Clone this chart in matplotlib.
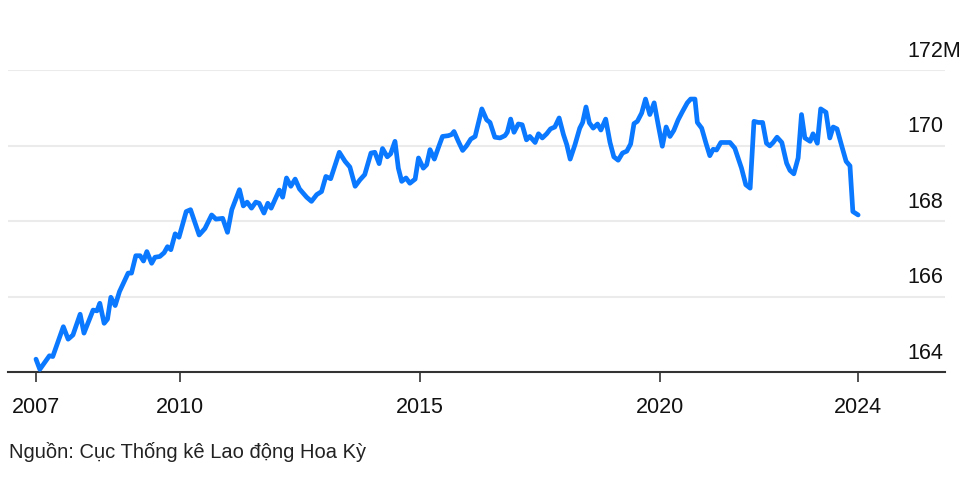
import matplotlib
matplotlib.use("Agg")
import matplotlib.pyplot as plt

plt.rcParams['font.family'] = ['Liberation Sans', 'DejaVu Sans']

# vertices (decimal years, millions)
years = [
    2007.00, 2007.08, 2007.28, 2007.35, 2007.57, 2007.67, 2007.77, 2007.92,
    2008.00, 2008.19, 2008.27, 2008.33, 2008.42, 2008.49, 2008.56, 2008.65,
    2008.74, 2008.92, 2008.99, 2009.08, 2009.17, 2009.24, 2009.31, 2009.41,
    2009.48, 2009.58, 2009.67, 2009.74, 2009.81, 2009.90, 2009.98, 2010.13,
    2010.22, 2010.40, 2010.52, 2010.66, 2010.75, 2010.89, 2010.99, 2011.08,
    2011.24, 2011.32, 2011.40, 2011.49, 2011.58, 2011.65, 2011.75, 2011.83,
    2011.90, 2012.07, 2012.14, 2012.22, 2012.31, 2012.40, 2012.49, 2012.64,
    2012.74, 2012.85, 2012.95, 2013.04, 2013.14, 2013.32, 2013.44, 2013.54,
    2013.65, 2013.75, 2013.85, 2013.98, 2014.06, 2014.15, 2014.22, 2014.32,
    2014.39, 2014.48, 2014.55, 2014.62, 2014.71, 2014.79, 2014.90, 2014.97,
    2015.07, 2015.14, 2015.21, 2015.30, 2015.38, 2015.47, 2015.59, 2015.66,
    2015.71, 2015.80, 2015.89, 2015.97, 2016.06, 2016.15, 2016.29, 2016.39,
    2016.46, 2016.56, 2016.67, 2016.77, 2016.82, 2016.89, 2016.96, 2017.05,
    2017.13, 2017.22, 2017.29, 2017.40, 2017.47, 2017.55, 2017.64, 2017.72,
    2017.81, 2017.90, 2017.99, 2018.06, 2018.13, 2018.23, 2018.33, 2018.39,
    2018.46, 2018.53, 2018.61, 2018.70, 2018.77, 2018.87, 2018.96, 2019.04,
    2019.13, 2019.22, 2019.31, 2019.39, 2019.46, 2019.53, 2019.62, 2019.70,
    2019.79, 2019.88, 2019.97, 2020.05, 2020.13, 2020.21, 2020.29, 2020.38,
    2020.47, 2020.57, 2020.64, 2020.73, 2020.78, 2020.87, 2020.96, 2021.04,
    2021.11, 2021.18, 2021.27, 2021.35, 2021.46, 2021.56, 2021.70, 2021.79,
    2021.88, 2021.96, 2022.05, 2022.14, 2022.22, 2022.29, 2022.36, 2022.44,
    2022.54, 2022.64, 2022.71, 2022.79, 2022.88, 2022.95, 2023.02, 2023.13,
    2023.19, 2023.28, 2023.35, 2023.46, 2023.54, 2023.61, 2023.69, 2023.79,
    2023.88, 2023.96, 2024.02, 2024.13,
]
workers = [
    164.34, 164.07, 164.43, 164.41, 165.20, 164.87, 164.98, 165.53,
    165.03, 165.64, 165.62, 165.82, 165.29, 165.40, 165.98, 165.76,
    166.13, 166.62, 166.62, 167.08, 167.08, 166.94, 167.19, 166.88,
    167.04, 167.06, 167.16, 167.32, 167.24, 167.66, 167.57, 168.25,
    168.30, 167.63, 167.80, 168.16, 168.05, 168.07, 167.70, 168.30,
    168.83, 168.40, 168.50, 168.34, 168.50, 168.47, 168.21, 168.47,
    168.34, 168.82, 168.63, 169.14, 168.92, 169.11, 168.85, 168.63,
    168.52, 168.70, 168.78, 169.18, 169.12, 169.82, 169.58, 169.43,
    168.92, 169.09, 169.23, 169.80, 169.82, 169.52, 169.92, 169.70,
    169.78, 170.11, 169.40, 169.05, 169.14, 169.00, 169.11, 169.67,
    169.40, 169.49, 169.89, 169.64, 169.93, 170.24, 170.26, 170.29,
    170.37, 170.11, 169.87, 169.99, 170.17, 170.24, 170.97, 170.68,
    170.61, 170.22, 170.20, 170.26, 170.35, 170.70, 170.35, 170.57,
    170.55, 170.15, 170.24, 170.08, 170.31, 170.20, 170.31, 170.44,
    170.49, 170.73, 170.29, 170.02, 169.64, 170.02, 170.46, 170.61,
    171.02, 170.60, 170.46, 170.57, 170.41, 170.70, 170.08, 169.70,
    169.61, 169.80, 169.85, 170.04, 170.58, 170.64, 170.86, 171.23,
    170.82, 171.13, 170.51, 169.98, 170.49, 170.24, 170.40, 170.68,
    170.90, 171.13, 171.23, 171.23, 170.61, 170.46, 170.06, 169.73,
    169.90, 169.88, 170.08, 170.08, 170.08, 169.93, 169.40, 168.96,
    168.87, 170.64, 170.61, 170.61, 170.06, 169.99, 170.08, 170.22,
    170.08, 169.53, 169.34, 169.25, 169.67, 170.82, 170.20, 170.11,
    170.31, 170.06, 170.97, 170.88, 170.20, 170.49, 170.44, 169.98,
    169.58, 169.46, 168.25, 168.16,
]

y_ticks = [164, 166, 168, 170, 172]
y_labels = ['164', '166', '168', '170', '172M']
x_ticks = [2007, 2010, 2015, 2020, years[-1]]
x_labels = ['2007', '2010', '2015', '2020', '2024']
source = 'Nguồn: Cục Thống kê Lao động Hoa Kỳ'

fig = plt.figure(figsize=(9.75, 4.79), dpi=100)
ax = fig.add_axes([8 / 975, 1 - 372 / 479, 937 / 975, 302 / 479])

ax.plot(years, workers, color='#0a78ff', lw=3.4, solid_joinstyle='round',
        solid_capstyle='round', zorder=3, clip_on=False)

ax.set_xlim(2006.417, 2025.94)
ax.set_ylim(164, 172)

for v in y_ticks[1:]:
    ax.axhline(v, color='#ebebeb', lw=1.5, zorder=1)
for v, lab in zip(y_ticks, y_labels):
    ax.text(0.9594, v + 0.35, lab, transform=ax.get_yaxis_transform(),
            ha='left', va='baseline', fontsize=15.5, color='#111111')

for s in ['top', 'right', 'left']:
    ax.spines[s].set_visible(False)
ax.spines['bottom'].set_color('#333333')
ax.spines['bottom'].set_linewidth(1.5)
ax.set_yticks([])
ax.set_xticks(x_ticks)
ax.set_xticklabels(x_labels, fontsize=15.5, color='#111111')
ax.tick_params(axis='x', direction='out', length=7, width=1.2,
               color='#333333', pad=11)

fig.text(9 / 975, 1 - 452 / 479, source, ha='left', va='center',
         fontsize=14.5, color='#222222')

fig.savefig('out.png', dpi=100)
